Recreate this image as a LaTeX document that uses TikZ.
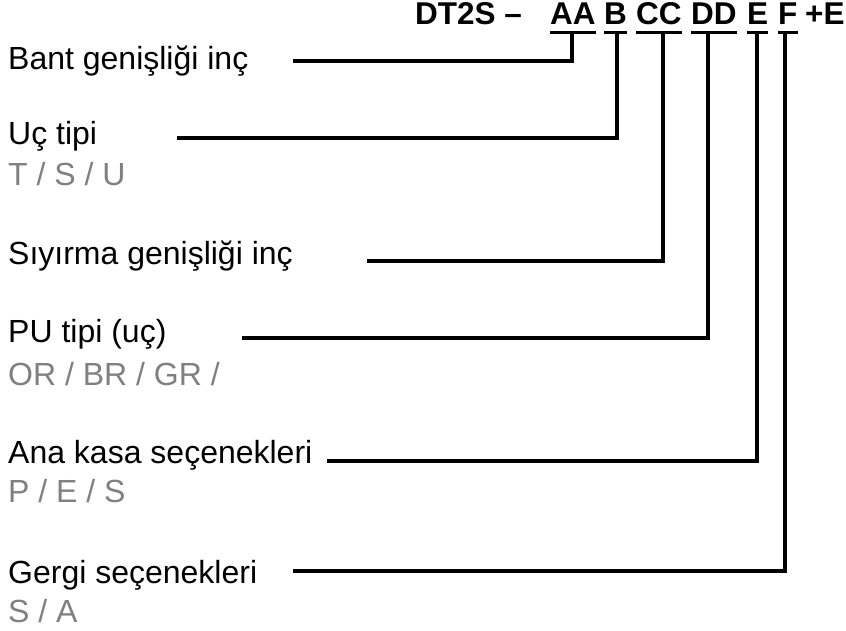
\documentclass[tikz,border=0pt]{standalone}
\usepackage{fontspec}
\setmainfont{Liberation Sans}
\definecolor{optgray}{RGB}{128,128,128}
\begin{document}
\begin{tikzpicture}[x=1pt,y=-1pt,
  lab/.style={anchor=base west,inner sep=0pt,font=\fontsize{32}{36}\selectfont},
  opt/.style={lab,text=optgray},
  hdr/.style={anchor=base west,inner sep=0pt,font=\fontsize{31.5}{36}\selectfont\bfseries},
  conn/.style={line width=3.5pt,line join=miter},
  uline/.style={line width=3.2pt}]
\useasboundingbox (0,0) rectangle (846,631);

% header
\node[hdr] (DT) at (415,25) {DT2S –};
\node[hdr] (AA) at (550,25) {AA};
\node[hdr] (B)  at (604,25) {B};
\node[hdr] (CC) at (636,25) {CC};
\node[hdr] (DD) at (691,25) {DD};
\node[hdr] (E)  at (747,25) {E};
\node[hdr] (F)  at (778,25) {F};
\node[hdr] (PE) at (805,25) {+E};

\foreach \n in {AA,B,CC,DD,E,F}{
  \draw[uline] ([yshift=-7pt]\n.south west) -- ([yshift=-7pt]\n.south east);
  \coordinate (u\n) at ([yshift=-7pt]\n.south);
}

% labels
\node[lab] (L1) at (8,70) {Bant genişliği inç};
\node[lab] (L2) at (8,145) {Uç tipi};
\node[opt] (O2) at (8,186) {T / S / U};
\node[lab] (L3) at (8,265) {Sıyırma genişliği inç};
\node[lab] (L4) at (8,342) {PU tipi (uç)};
\node[opt] (O4) at (8,385) {OR / BR / GR /};
\node[lab] (L5) at (8,463) {Ana kasa seçenekleri};
\node[opt] (O5) at (8,502) {P / E / S};
\node[lab] (L6) at (8,583) {Gergi seçenekleri};
\node[opt] (O6) at (8,622) {S / A};

% line starts and corners
\coordinate (s1) at (293,61);  \coordinate (k1) at (572,61);
\coordinate (s2) at (177,138); \coordinate (k2) at (617,138);
\coordinate (s3) at (367,261); \coordinate (k3) at (663,261);
\coordinate (s4) at (242,338); \coordinate (k4) at (708,338);
\coordinate (s5) at (327,461); \coordinate (k5) at (757,461);
\coordinate (s6) at (293,571); \coordinate (k6) at (785,571);

\draw[conn] (k1 |- uAA) -- (k1) -- (s1);
\draw[conn] (k2 |- uB)  -- (k2) -- (s2);
\draw[conn] (k3 |- uCC) -- (k3) -- (s3);
\draw[conn] (k4 |- uDD) -- (k4) -- (s4);
\draw[conn] (k5 |- uE)  -- (k5) -- (s5);
\draw[conn] (k6 |- uF)  -- (k6) -- (s6);
\end{tikzpicture}
\end{document}
